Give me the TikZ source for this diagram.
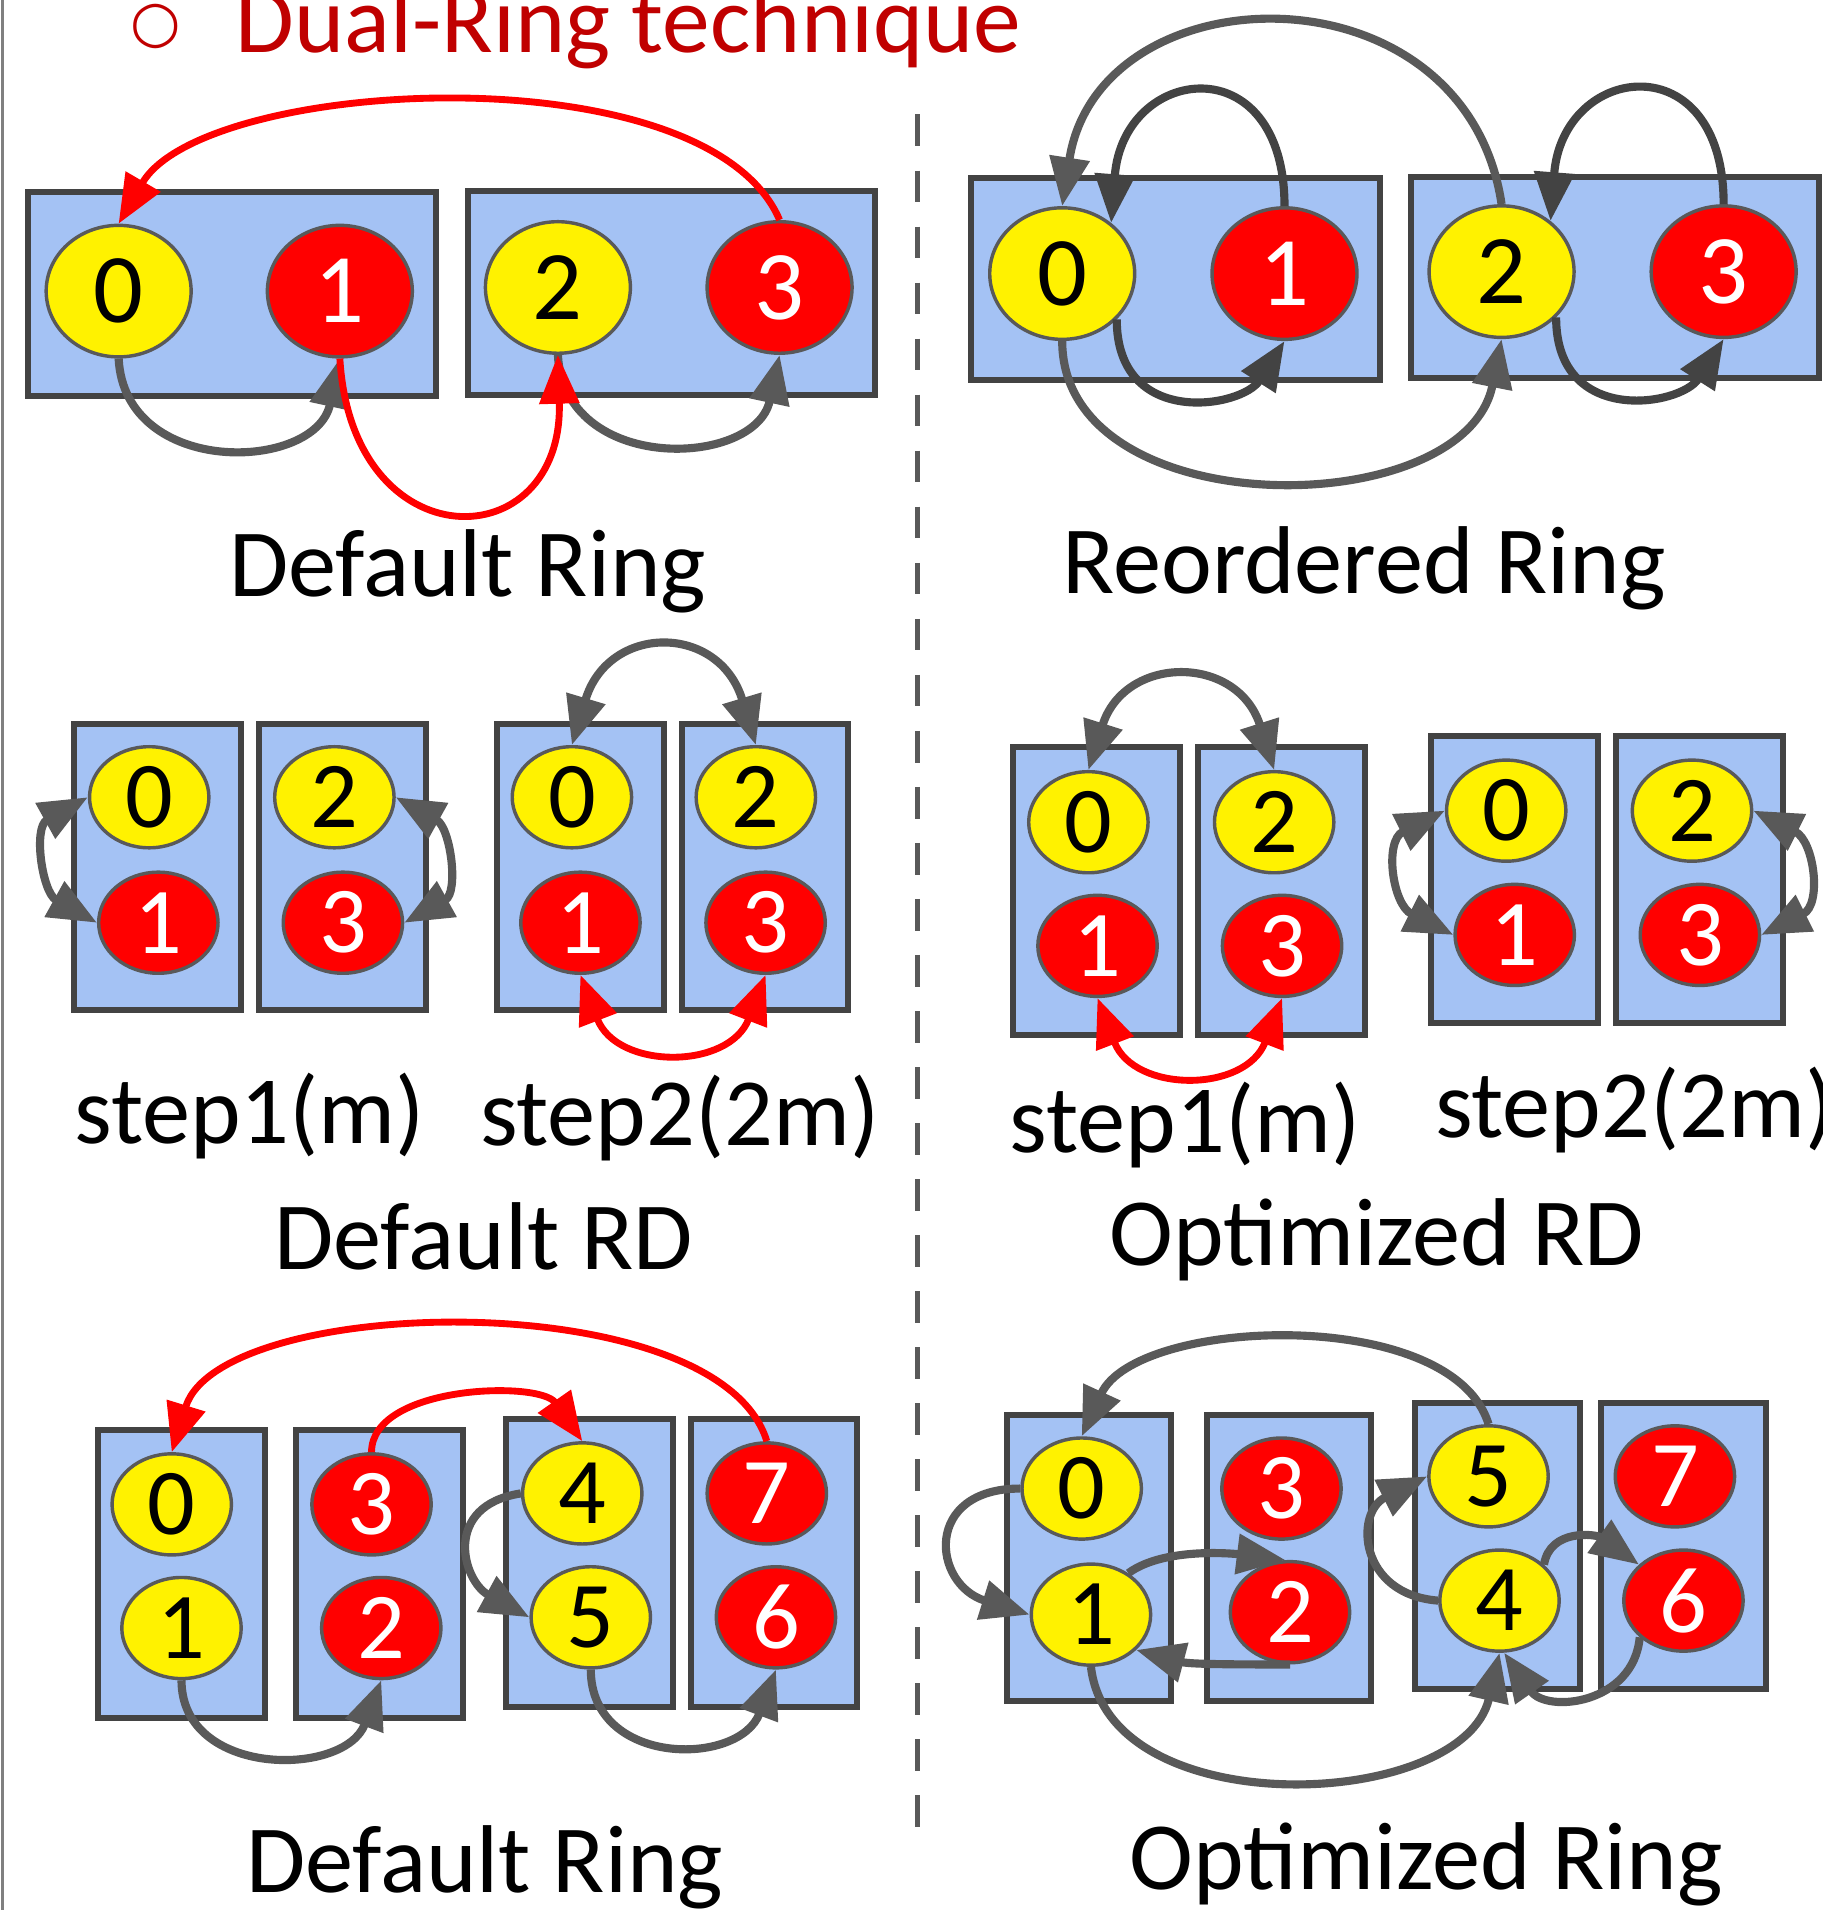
\documentclass[tikz,border=0pt]{standalone}
\usepackage{fontspec}
\setmainfont{Carlito}
\newfontfamily\symfont{DejaVu Sans}
\usetikzlibrary{positioning}
\usetikzlibrary{shapes.geometric}
\usetikzlibrary{arrows.meta}

\definecolor{boxblue}{HTML}{A4C2F4}
\definecolor{boxline}{HTML}{434343}
\definecolor{rimgray}{HTML}{595959}
\definecolor{arrgray}{HTML}{595959}
\definecolor{arrdark}{HTML}{434343}
\definecolor{hdrred}{HTML}{C00000}

\begin{document}
\begin{tikzpicture}
    [
    on grid,
    >={Triangle[length=0.4cm,width=0.32cm]},
    gpu/.style={draw=boxline, fill=boxblue, line width=1.4pt, inner sep=0pt},
    rank/.style={ellipse, draw=rimgray, line width=0.8pt, inner sep=0pt},
    even/.style={rank, fill=yellow, text=black},
    odd/.style={rank, fill=red, text=white},
    wide/.style={minimum width=1.19cm, minimum height=1.08cm, font=\fontsize{23}{27}\selectfont},
    tall/.style={minimum width=0.98cm, minimum height=0.83cm, font=\fontsize{22}{26}\selectfont},
    send/.style={draw=arrgray, line width=1.9pt, ->},
    senddark/.style={send, draw=arrdark},
    sendred/.style={draw=red, line width=1.6pt, ->},
    swap/.style={draw=arrgray, line width=1.9pt, <->},
    swapred/.style={draw=red, line width=1.6pt, <->},
    caption/.style={anchor=base, inner sep=0pt, font=\fontsize{22.5}{27}\selectfont},
    ]

    \useasboundingbox (0,0) rectangle (14.96,-15.68);
    \draw[gray, line width=0.5pt] (0.02,0) -- (0.02,-15.68);
    \coordinate (sep_top) at (7.53,-0.94);
    \coordinate (sep_bot) at (7.53,-15.0);
    \draw[rimgray, line width=1.1pt, dash pattern=on 0.26cm off 0.2cm] (sep_top) -- (sep_bot);

    \node[text=hdrred, font=\symfont\fontsize{13.5}{16}\selectfont] (hdr_dot) at (1.275,-0.217) {○};
    \node[text=hdrred, anchor=base west, inner sep=0pt, font=\fontsize{22.3}{26}\selectfont] (hdr) at (1.93,-0.43) {Dual-Ring technique};

    \node[gpu, minimum width=3.35cm, minimum height=1.67cm] (dr_box1) at (1.905,-2.415) {};
    \node[gpu, minimum width=3.34cm, minimum height=1.67cm] (dr_box2) at (5.51,-2.405) {};
    \node[even, wide] (dr_0) at (0.974,-2.39) {0};
    \node[odd, wide, right=1.816 of dr_0] (dr_1) {1};
    \node[even, wide] (dr_2) at (4.58,-2.36) {2};
    \node[odd, wide, right=1.82 of dr_2] (dr_3) {3};
    \draw[send] (dr_0.south) .. controls +(0.05,-0.98) and +(-0.2,-0.93) .. (dr_1.south);
    \draw[send] (dr_2.south) .. controls +(0.05,-0.98) and +(-0.2,-0.93) .. (dr_3.south);
    \draw[sendred] (dr_1.south) .. controls +(0.1,-1.68) and +(0.05,-1.68) .. (dr_2.south);
    \draw[sendred] (dr_3.north) .. controls +(-0.6,1.4) and +(0.7,1.2) .. (dr_0.north);
    \node[caption] (dr_title) at (3.84,-4.90) {Default Ring};

    \node[gpu, minimum width=3.36cm, minimum height=1.66cm] (re_box1) at (9.65,-2.29) {};
    \node[gpu, minimum width=3.35cm, minimum height=1.65cm] (re_box2) at (13.255,-2.275) {};
    \node[even, wide] (re_0) at (8.72,-2.246) {0};
    \node[odd, wide, right=1.825 of re_0] (re_1) {1};
    \node[even, wide] (re_2) at (12.327,-2.23) {2};
    \node[odd, wide, right=1.823 of re_2] (re_3) {3};
    \draw[senddark] (re_1.north) .. controls +(0,1.33) and +(0.1,1.3) .. (re_0.46);
    \draw[senddark] (re_0.-40) .. controls +(0,-0.9) and +(-0.35,-0.55) .. (re_1.south);
    \draw[send] (re_2.north) .. controls +(-0.3,2.0) and +(0.3,1.95) .. (re_0.north);
    \draw[send] (re_0.south) .. controls +(0,-1.52) and +(-0.3,-1.52) .. (re_2.south);
    \draw[senddark] (re_3.north) .. controls +(0,1.33) and +(0.1,1.3) .. (re_2.46);
    \draw[senddark] (re_2.-40) .. controls +(0,-0.9) and +(-0.35,-0.55) .. (re_3.south);
    \node[caption] (re_title) at (11.20,-4.87) {Reordered Ring};

    \node[gpu, minimum width=1.37cm, minimum height=2.35cm] (rd_box1) at (1.295,-7.115) {};
    \node[gpu, minimum width=1.37cm, minimum height=2.35cm] (rd_box2) at (2.815,-7.115) {};
    \node[gpu, minimum width=1.37cm, minimum height=2.35cm] (rd_box3) at (4.765,-7.115) {};
    \node[gpu, minimum width=1.37cm, minimum height=2.35cm] (rd_box4) at (6.28,-7.115) {};
    \node[even, tall] (rd_a0) at (1.225,-6.545) {0};
    \node[odd, tall, below right=1.03 and 0.075 of rd_a0] (rd_a1) {1};
    \node[even, tall] (rd_b2) at (2.745,-6.545) {2};
    \node[odd, tall, below right=1.03 and 0.07 of rd_b2] (rd_b3) {3};
    \node[even, tall] (rd_c0) at (4.695,-6.545) {0};
    \node[odd, tall, below right=1.03 and 0.07 of rd_c0] (rd_c1) {1};
    \node[even, tall] (rd_d2) at (6.205,-6.545) {2};
    \node[odd, tall, below right=1.03 and 0.08 of rd_d2] (rd_d3) {3};
    \draw[swap] (rd_a0.west) .. controls +(-0.45,-0.25) and +(-0.45,0.25) .. (rd_a1.west);
    \draw[swap] (rd_b2.east) .. controls +(0.45,-0.25) and +(0.45,0.25) .. (rd_b3.east);
    \draw[swap] (rd_c0.north) .. controls +(0.3,1.0) and +(-0.3,1.0) .. (rd_d2.north);
    \draw[swapred] (rd_c1.south) .. controls +(0.3,-0.78) and +(-0.3,-0.78) .. (rd_d3.south);
    \node[caption] (rd_step1) at (2.05,-9.39) {step1(m)};
    \node[caption] (rd_step2) at (5.58,-9.40) {step2(2m)};
    \node[caption] (rd_title) at (3.97,-10.42) {Default RD};

    \node[gpu, minimum width=1.37cm, minimum height=2.37cm] (ord_box1) at (9.005,-7.315) {};
    \node[gpu, minimum width=1.37cm, minimum height=2.37cm] (ord_box2) at (10.52,-7.315) {};
    \node[gpu, minimum width=1.37cm, minimum height=2.36cm] (ord_box3) at (12.435,-7.22) {};
    \node[gpu, minimum width=1.37cm, minimum height=2.36cm] (ord_box4) at (13.95,-7.22) {};
    \node[even, tall] (ord_i0) at (8.935,-6.75) {0};
    \node[odd, tall, below right=1.015 and 0.075 of ord_i0] (ord_i1) {1};
    \node[even, tall] (ord_j2) at (10.46,-6.75) {2};
    \node[odd, tall, below right=1.015 and 0.065 of ord_j2] (ord_j3) {3};
    \node[even, tall] (ord_k0) at (12.365,-6.655) {0};
    \node[odd, tall, below right=1.02 and 0.07 of ord_k0] (ord_k1) {1};
    \node[even, tall] (ord_l2) at (13.89,-6.655) {2};
    \node[odd, tall, below right=1.02 and 0.065 of ord_l2] (ord_l3) {3};
    \draw[swap] (ord_i0.north) .. controls +(0.3,0.95) and +(-0.3,0.95) .. (ord_j2.north);
    \draw[swapred] (ord_i1.south) .. controls +(0.3,-0.78) and +(-0.3,-0.78) .. (ord_j3.south);
    \draw[swap] (ord_k0.west) .. controls +(-0.5,-0.25) and +(-0.5,0.25) .. (ord_k1.west);
    \draw[swap] (ord_l2.east) .. controls +(0.5,-0.25) and +(0.5,0.25) .. (ord_l3.east);
    \node[caption] (ord_step1) at (9.73,-9.46) {step1(m)};
    \node[caption] (ord_step2) at (13.42,-9.34) {step2(2m)};
    \node[caption] (ord_title) at (11.305,-10.39) {Optimized RD};

    \node[gpu, minimum width=1.365cm, minimum height=2.36cm] (dr8_box1) at (1.49,-12.92) {};
    \node[gpu, minimum width=1.365cm, minimum height=2.36cm] (dr8_box2) at (3.115,-12.92) {};
    \node[gpu, minimum width=1.365cm, minimum height=2.36cm] (dr8_box3) at (4.84,-12.83) {};
    \node[gpu, minimum width=1.365cm, minimum height=2.36cm] (dr8_box4) at (6.355,-12.83) {};
    \node[even, tall] (dr8_m0) at (1.41,-12.35) {0};
    \node[even, tall, below right=1.015 and 0.08 of dr8_m0] (dr8_m1) {1};
    \node[odd, tall] (dr8_n3) at (3.05,-12.35) {3};
    \node[odd, tall, below right=1.015 and 0.08 of dr8_n3] (dr8_n2) {2};
    \node[even, tall] (dr8_o4) at (4.78,-12.26) {4};
    \node[even, tall, below right=1.017 and 0.07 of dr8_o4] (dr8_o5) {5};
    \node[odd, tall] (dr8_p7) at (6.295,-12.26) {7};
    \node[odd, tall, below right=1.017 and 0.075 of dr8_p7] (dr8_p6) {6};
    \draw[send] (dr8_m1.south) .. controls +(0,-0.8) and +(-0.3,-0.8) .. (dr8_n2.south);
    \draw[sendred] (dr8_n3.north) .. controls +(0,0.55) and +(-0.35,0.5) .. (dr8_o4.north);
    \draw[send] (dr8_o4.west) .. controls +(-0.65,-0.1) and +(-0.55,0.3) .. (dr8_o5.west);
    \draw[send] (dr8_o5.south) .. controls +(0,-0.8) and +(-0.3,-0.8) .. (dr8_p6.south);
    \draw[sendred] (dr8_p7.north) .. controls +(-0.4,1.3) and +(0.4,1.3) .. (dr8_m0.north);
    \node[caption] (dr8_title) at (3.98,-15.54) {Default Ring};

    \node[gpu, minimum width=1.35cm, minimum height=2.35cm] (or_box1) at (8.94,-12.79) {};
    \node[gpu, minimum width=1.35cm, minimum height=2.35cm] (or_box2) at (10.58,-12.79) {};
    \node[gpu, minimum width=1.35cm, minimum height=2.35cm] (or_box3) at (12.295,-12.69) {};
    \node[gpu, minimum width=1.35cm, minimum height=2.35cm] (or_box4) at (13.82,-12.69) {};
    \node[even, tall] (or_q0) at (8.88,-12.22) {0};
    \node[even, tall, below right=1.035 and 0.076 of or_q0] (or_q1) {1};
    \node[odd, tall] (or_r3) at (10.52,-12.22) {3};
    \node[odd, tall, below right=1.015 and 0.07 of or_r3] (or_r2) {2};
    \node[even, tall] (or_s5) at (12.22,-12.12) {5};
    \node[even, tall, below right=1.02 and 0.09 of or_s5] (or_s4) {4};
    \node[odd, tall] (or_t7) at (13.75,-12.12) {7};
    \node[odd, tall, below right=1.02 and 0.07 of or_t7] (or_t6) {6};
    \draw[send] (or_q0.west) .. controls +(-0.8,0) and +(-0.8,0.25) .. (or_q1.west);
    \draw[send] (or_q1.48) .. controls +(0.3,0.22) and +(-0.4,0.05) .. (or_r2.95);
    \draw[send] (or_r2.south) .. controls +(-0.35,0) and +(0.45,-0.12) .. (or_q1.-38);
    \draw[send] (or_q1.south) .. controls +(0.15,-1.3) and +(-0.3,-1.3) .. (or_s4.south);
    \draw[send] (or_s4.west) .. controls +(-0.65,0.05) and +(-0.6,-0.3) .. (or_s5.west);
    \draw[send] (or_s4.39) .. controls +(0.05,0.3) and +(-0.35,0.25) .. (or_t6.141);
    \draw[send] (or_t6.-140) .. controls +(-0.05,-0.55) and +(0.35,-0.5) .. (or_s4.-85);
    \draw[send] (or_s5.north) .. controls +(-0.3,0.98) and +(0.45,0.98) .. (or_q0.north);
    \node[caption] (or_title) at (11.71,-15.51) {Optimized Ring};
\end{tikzpicture}
\end{document}
